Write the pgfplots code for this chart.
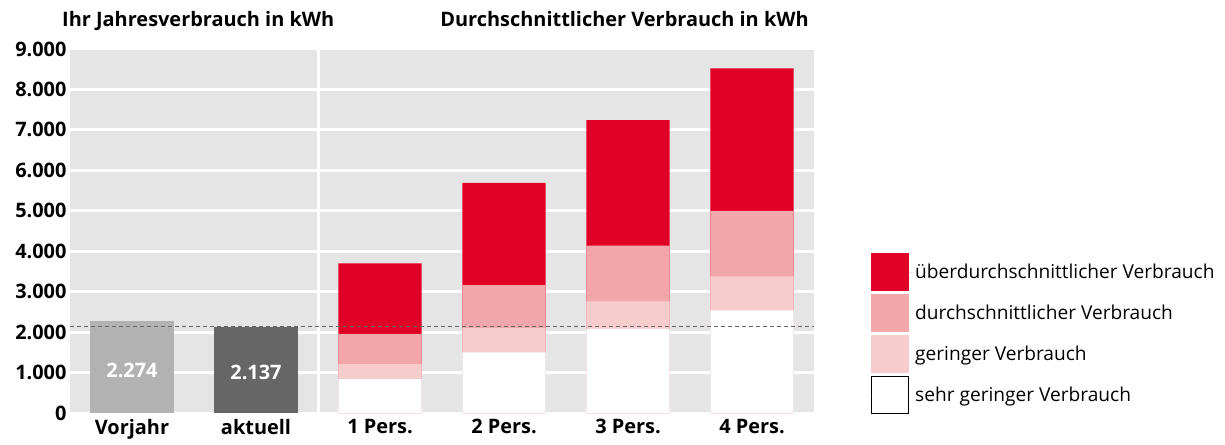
\documentclass[border=0pt]{standalone}
\usepackage{fontspec}
\setmainfont{Open Sans}
\usepackage{pgfplots}
\pgfplotsset{compat=1.18}
\definecolor{cred}{HTML}{E10026}
\definecolor{cpink}{HTML}{F2A7AB}
\definecolor{clpink}{HTML}{F6CCCD}
\definecolor{cgl}{HTML}{B2B2B2}
\definecolor{cgd}{HTML}{666666}
\definecolor{cbg}{HTML}{E5E5E5}
\begin{document}
\begin{tikzpicture}
\begin{axis}[
  scale only axis, width=744bp, height=364bp,
  xmin=-0.5, xmax=5.5, ymin=0, ymax=9000,
  axis line style={draw=none},
  axis background/.style={fill=cbg},
  ymajorgrids, grid style={white, line width=3bp},
  ytick={0,1000,...,9000},
  xtick={0,...,5},
  xticklabels={Vorjahr, aktuell, 1 Pers., 2 Pers., 3 Pers., 4 Pers.},
  major tick length=0pt,
  tick style={draw=none},
  scaled y ticks=false,
  /pgf/number format/1000 sep={.},
  /pgf/number format/assume math mode=true,
  yticklabel style={font=\bfseries\fontsize{20}{24}\selectfont},
  xticklabel style={font=\bfseries\fontsize{20}{24}\selectfont, yshift=-3bp},
  legend style={at={(rel axis cs:1.0766,0.44)}, anchor=north west, draw=none, fill=none,
    font=\fontsize{19.2}{23}\selectfont, row sep=3bp, inner sep=0pt},
  legend cell align=left,
  clip=false,
]
\draw[white, line width=3bp] (axis cs:1.5,0) -- (axis cs:1.5,9000);
\addplot[ybar, bar width=0.67, bar shift=0pt, fill=cred, draw=none,
  legend image code/.code={\fill[cred] (0bp,-19bp) rectangle (38bp,19bp); \path (0bp,0bp) -- (42bp,0bp);}]
  coordinates {(2,3700) (3,5690) (4,7240) (5,8520)};
\addlegendentry{überdurchschnittlicher Verbrauch}
\addplot[ybar, bar width=0.67, bar shift=0pt, fill=cpink, draw=none,
  legend image code/.code={\fill[cpink] (0bp,-19bp) rectangle (38bp,19bp); \path (0bp,0bp) -- (42bp,0bp);}]
  coordinates {(2,1950) (3,3160) (4,4140) (5,5000)};
\addlegendentry{durchschnittlicher Verbrauch}
\addplot[ybar, bar width=0.67, bar shift=0pt, fill=clpink, draw=none,
  legend image code/.code={\fill[clpink] (0bp,-19bp) rectangle (38bp,19bp); \path (0bp,0bp) -- (42bp,0bp);}]
  coordinates {(2,1210) (3,2100) (4,2760) (5,3380)};
\addlegendentry{geringer Verbrauch}
\addplot[ybar, bar width=0.67, bar shift=0pt, fill=white, draw=none,
  legend image code/.code={\draw[black, fill=white, line width=1.2bp] (0.6bp,-18.4bp) rectangle (37.4bp,18.4bp); \path (0bp,0bp) -- (42bp,0bp);}]
  coordinates {(2,840) (3,1500) (4,2080) (5,2540)};
\addlegendentry{sehr geringer Verbrauch}
\addplot[ybar, bar width=0.67, bar shift=0pt, fill=cgl, draw=none, forget plot]
  coordinates {(0,2274)};
\addplot[ybar, bar width=0.67, bar shift=0pt, fill=cgd, draw=none, forget plot]
  coordinates {(1,2137)};
\addplot[sharp plot, cgd, line width=1bp, dash pattern=on 4bp off 3bp, forget plot]
  coordinates {(-0.5,2137) (5.5,2137)};
\node[white, font=\bfseries\fontsize{20}{24}\selectfont] at (axis cs:0,1060) {2.274};
\node[white, font=\bfseries\fontsize{20}{24}\selectfont] at (axis cs:1,1010) {2.137};
\node[anchor=base west, inner sep=0pt, font=\bfseries\fontsize{20}{24}\selectfont]
  at ([xshift=-8bp, yshift=22bp]rel axis cs:0,1) {Ihr Jahresverbrauch in kWh};
\node[anchor=base east, inner sep=0pt, font=\bfseries\fontsize{20}{24}\selectfont]
  at ([xshift=-5bp, yshift=22bp]rel axis cs:1,1) {Durchschnittlicher Verbrauch in kWh};
\coordinate (ll) at (rel axis cs:0,0);
\coordinate (ur) at (rel axis cs:1,1);
\end{axis}
\pgfresetboundingbox
\path[use as bounding box] ([xshift=-70bp,yshift=-32bp]ll) rectangle ([xshift=411bp,yshift=49bp]ur);
\end{tikzpicture}
\end{document}
